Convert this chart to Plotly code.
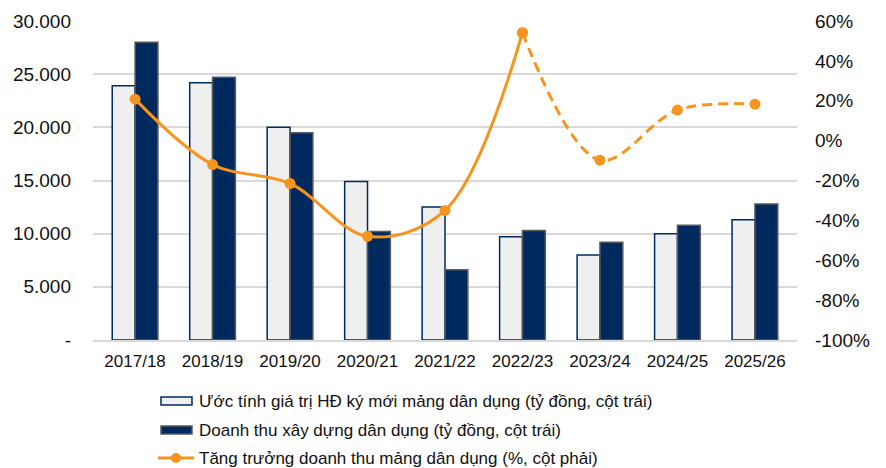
import plotly.graph_objects as go

# Fiscal years on the category axis
years = ["2017/18", "2018/19", "2019/20", "2020/21", "2021/22",
         "2022/23", "2023/24", "2024/25", "2025/26"]

# Estimated value of newly signed civil contracts (bn VND, left axis)
new_contracts = [23900, 24200, 20000, 14900, 12500, 9700, 8000, 10000, 11300]

# Civil construction revenue (bn VND, left axis)
revenue = [28000, 24700, 19500, 10200, 6600, 10300, 9200, 10800, 12800]

# Revenue growth of the civil segment (%, right axis)
growth = [20.8, -12.0, -21.5, -48.0, -35.0, 54.1, -9.8, 15.3, 18.3]

# Index where actuals end and forecasts begin
split = 5

left_ticks = [0, 5000, 10000, 15000, 20000, 25000, 30000]
left_labels = ["-", "5.000", "10.000", "15.000", "20.000", "25.000", "30.000"]
right_ticks = [-100, -80, -60, -40, -20, 0, 20, 40, 60]
right_labels = ["-100%", "-80%", "-60%", "-40%", "-20%", "0%", "20%", "40%", "60%"]

legend_labels = [
    "Ước tính giá trị HĐ ký mới mảng dân dụng (tỷ đồng, cột trái)",
    "Doanh thu xây dựng dân dụng (tỷ đồng, cột trái)",
    "Tăng trưởng doanh thu mảng dân dụng (%, cột phải)",
]

NAVY = "#002A5E"
LIGHT = "#EFEFEF"
ORANGE = "#F7941D"
GRID = "#D9D9D9"
FONT = "Liberation Sans, Arial, sans-serif"

W, H = 886, 468
ML, MR, MT, MB = 93, 89, 21, 128

fig = go.Figure()

fig.add_trace(go.Bar(
    x=years, y=new_contracts, name=legend_labels[0],
    marker=dict(color=LIGHT, line=dict(color=NAVY, width=1.5)),
    yaxis="y", showlegend=False,
))
fig.add_trace(go.Bar(
    x=years, y=revenue, name=legend_labels[1],
    marker=dict(color=NAVY, line=dict(color="#5A5A5A", width=1.5)),
    yaxis="y", showlegend=False,
))

# Growth line: solid for actuals, dashed for forecasts
fig.add_trace(go.Scatter(
    x=years[:split + 1], y=growth[:split + 1], yaxis="y2",
    mode="lines+markers",
    line=dict(color=ORANGE, width=3, shape="spline", smoothing=1),
    marker=dict(color=ORANGE, size=11),
    showlegend=False,
))
fig.add_trace(go.Scatter(
    x=years[split:], y=growth[split:], yaxis="y2",
    mode="lines+markers",
    line=dict(color=ORANGE, width=3, shape="spline", smoothing=1, dash="10px,6px"),
    marker=dict(color=ORANGE, size=11),
    showlegend=False,
))

# Hand-built legend below the plot
ph = H - MT - MB
pw = W - ML - MR


def px_x(x):
    return (x - ML) / pw


def px_y(y):
    return (H - MB - y) / ph


rows = [401, 430, 458]
shapes = []
annotations = []
# bar swatches
shapes.append(dict(type="rect", xref="paper", yref="paper",
                   x0=px_x(161), x1=px_x(192), y0=px_y(rows[0] - 4), y1=px_y(rows[0] + 4),
                   fillcolor=LIGHT, line=dict(color=NAVY, width=1.5)))
shapes.append(dict(type="rect", xref="paper", yref="paper",
                   x0=px_x(161), x1=px_x(192), y0=px_y(rows[1] - 4), y1=px_y(rows[1] + 4),
                   fillcolor=NAVY, line=dict(color="#5A5A5A", width=1.5)))
# line swatch
shapes.append(dict(type="line", xref="paper", yref="paper",
                   x0=px_x(158), x1=px_x(194), y0=px_y(rows[2]), y1=px_y(rows[2]),
                   line=dict(color=ORANGE, width=3)))
shapes.append(dict(type="circle", xref="paper", yref="paper",
                   x0=px_x(171), x1=px_x(181), y0=px_y(rows[2] - 5), y1=px_y(rows[2] + 5),
                   fillcolor=ORANGE, line=dict(color=ORANGE, width=0)))
for r, lab in zip(rows, legend_labels):
    annotations.append(dict(xref="paper", yref="paper", x=px_x(197), y=px_y(r),
                            xanchor="left", yanchor="middle", text=lab, showarrow=False,
                            font=dict(family=FONT, size=17, color="#111111")))

fig.update_layout(
    width=W, height=H,
    margin=dict(l=ML, r=MR, t=MT, b=MB),
    paper_bgcolor="white", plot_bgcolor="white",
    barmode="group", bargap=0.41, bargroupgap=0,
    font=dict(family=FONT, size=17, color="#111111"),
    xaxis=dict(
        showgrid=False, showline=True, linecolor=GRID, linewidth=1.5,
        ticks="", tickfont=dict(size=17), ticklabelstandoff=5,
    ),
    yaxis=dict(
        range=[0, 30000], tickvals=left_ticks, ticktext=left_labels,
        showgrid=True, gridcolor=GRID, gridwidth=1.5, zeroline=False,
        showline=False, ticks="", ticklabelstandoff=21, tickfont=dict(size=19),
    ),
    yaxis2=dict(
        range=[-100, 60], tickvals=right_ticks, ticktext=right_labels,
        overlaying="y", side="right", showgrid=False, zeroline=False,
        showline=False, ticks="", ticklabelstandoff=17, tickfont=dict(size=19),
    ),
    shapes=shapes, annotations=annotations,
)

fig.write_html("out.html")
